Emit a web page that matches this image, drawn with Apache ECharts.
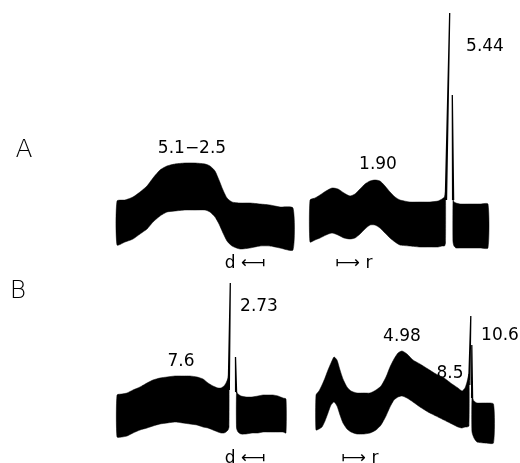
<!DOCTYPE html>
<html>
<head>
<meta charset="utf-8">
<script src="https://cdn.jsdelivr.net/npm/echarts@6/dist/echarts.min.js"></script>
<style>
  html, body { margin: 0; padding: 0; background: #fff; }
  #chart { width: 520px; height: 463px; }
</style>
</head>
<body>
<div id="chart"></div>
<script>
// ---- Trace A, "d" sweep: sweep position, upper and lower envelope of the recorded band
const aDX      = [0, 8, 16, 23, 30, 36, 43, 50, 58, 68, 78, 88, 93, 98, 102, 106, 110, 115, 123, 133, 143, 153, 163, 176];
const aDTop    = [51, 52, 55, 60, 66, 74, 82, 86, 88, 89, 89, 88, 86, 81, 72, 62, 54, 50, 49, 49, 48, 47, 45, 44];
const aDBottom = [7, 10, 13, 18, 23, 30, 36, 40, 41, 42, 42, 42, 40, 35, 28, 19, 11, 6, 3, 4, 6, 6, 4, 2];

// ---- Trace A, "r" sweep (band before the sharp line, band after it)
const aRX1      = [0, 5, 10, 16, 22, 28, 34, 40, 45, 50, 55, 60, 65, 70, 75, 80, 85, 90, 100, 110, 120, 128, 132, 134.5, 135.5];
const aRTop1    = [52, 54, 57, 61, 64, 63, 59, 56, 58, 63, 68, 71, 72, 71, 66, 60, 55, 52, 50, 50, 50, 51, 53, 55, 60];
const aRBottom1 = [10, 12, 14, 17, 19, 17, 14, 13, 14, 18, 23, 27, 27, 24, 19, 14, 10, 7, 6, 5, 5, 5, 6, 6, 9];
const aRX2      = [143, 144, 146, 150, 160, 170, 178];
const aRTop2    = [52, 50, 49, 48, 48, 48, 48];
const aRBottom2 = [10, 6, 4, 4, 4, 4, 4];
// sharp lines: [x, y] traces
const aRLineTall  = [[135.3, 52], [139.7, 239], [136.5, 52]];
const aRLineShort = [[142.6, 52], [142.3, 157], [143.6, 52]];

// ---- Trace B, "d" sweep
const bDX1      = [0, 5, 10, 16, 23, 30, 36, 43, 50, 58, 66, 73, 80, 86, 91, 96, 101, 104, 107, 109, 111, 112];
const bDTop1    = [45, 46, 47, 50, 53, 57, 60, 62, 63, 64, 64, 64, 63, 61, 57, 54, 52, 52, 54, 57, 62, 68];
const bDBottom1 = [3, 3, 4, 7, 10, 12, 14, 16, 17, 18, 17, 16, 15, 13, 12, 10, 8, 7, 7, 8, 10, 13];
const bDX2      = [119.5, 121, 124, 129, 135, 141, 146, 151, 156, 161, 166, 169];
const bDTop2    = [48, 46, 44, 43, 43, 44, 45, 45, 45, 44, 42, 41];
const bDBottom2 = [12, 8, 6, 6, 7, 7, 8, 8, 8, 8, 8, 7];
const bDLineTall  = [[111.3, 55], [113.3, 157], [112.3, 50]];
const bDLineShort = [[118.6, 48], [118.5, 83], [119.6, 47]];

// ---- Trace B, "r" sweep
const bRX1      = [0, 3, 6, 9, 12, 15, 18, 21, 24, 27, 31, 35, 41, 48, 54, 60, 65, 70, 74, 78, 82, 86, 91, 97, 104, 112, 120, 128, 136, 142, 146, 149, 151, 153];
const bRTop1    = [51, 55, 61, 68, 76, 83, 89, 86, 76, 67, 59, 55, 53, 53, 53, 56, 60, 69, 79, 87, 93, 95, 92, 86, 82, 77, 72, 68, 62, 58, 55, 58, 64, 72];
const bRBottom1 = [16, 17, 19, 25, 33, 41, 44, 40, 31, 23, 17, 14, 12, 12, 13, 16, 21, 30, 39, 46, 49, 50, 48, 44, 39, 34, 30, 26, 22, 19, 18, 19, 19, 20];
const bRX2      = [156, 158, 161, 169, 177.5];
const bRTop2    = [48, 45, 43, 43, 42];
const bRBottom2 = [14, 8, 4, 3, 3];
const bRLineTall  = [[152.8, 66], [154.8, 130], [153.8, 61]];
const bRLineShort = [[155.6, 48], [155.8, 101], [156.6, 46]];

// ---- Text
const traceNames = ['A', 'B'];
const peakLabels = ['5.1−2.5', '1.90', '5.44', '7.6', '2.73', '4.98', '8.5', '10.6'];
const sweepLabels = ['d ⟻', '⟼ r'];

const panels = [
  { grid: { left: 117, top: 152, width: 176, height: 100 }, xMax: 176, yMax: 100,
    blocks: [{ x: aDX, top: aDTop, bottom: aDBottom }], lines: [] },
  { grid: { left: 310, top: 10, width: 178, height: 242 }, xMax: 178, yMax: 242,
    blocks: [{ x: aRX1, top: aRTop1, bottom: aRBottom1 }, { x: aRX2, top: aRTop2, bottom: aRBottom2 }],
    lines: [aRLineTall, aRLineShort] },
  { grid: { left: 117, top: 280, width: 169, height: 160 }, xMax: 169, yMax: 160,
    blocks: [{ x: bDX1, top: bDTop1, bottom: bDBottom1 }, { x: bDX2, top: bDTop2, bottom: bDBottom2 }],
    lines: [bDLineTall, bDLineShort] },
  { grid: { left: 316, top: 310, width: 178, height: 136 }, xMax: 178, yMax: 136,
    blocks: [{ x: bRX1, top: bRTop1, bottom: bRBottom1 }, { x: bRX2, top: bRTop2, bottom: bRBottom2 }],
    lines: [bRLineTall, bRLineShort] }
];

const INK = '#000';
const grids = [], xAxes = [], yAxes = [], series = [];

panels.forEach((p, i) => {
  grids.push(Object.assign({ containLabel: false }, p.grid));
  xAxes.push({ type: 'value', gridIndex: i, min: 0, max: p.xMax, show: false });
  yAxes.push({ type: 'value', gridIndex: i, min: 0, max: p.yMax, show: false });

  // filled band between the upper and lower envelopes
  series.push({
    type: 'custom',
    xAxisIndex: i, yAxisIndex: i,
    silent: true,
    clip: false,
    data: p.blocks.map((b, k) => [b.x[0], b.bottom[0], k]),
    renderItem: function (params, api) {
      const b = p.blocks[api.value(2)];
      const pts = [];
      for (let j = 0; j < b.x.length; j++) pts.push(api.coord([b.x[j], b.top[j]]));
      for (let j = b.x.length - 1; j >= 0; j--) pts.push(api.coord([b.x[j], b.bottom[j]]));
      return {
        type: 'polygon',
        shape: { points: pts, smooth: 0.2 },
        style: { fill: INK, stroke: INK, lineWidth: 0.5 }
      };
    }
  });

  // sharp resonance lines
  p.lines.forEach(line => {
    series.push({
      type: 'line',
      xAxisIndex: i, yAxisIndex: i,
      data: line,
      symbol: 'none',
      silent: true,
      clip: false,
      lineStyle: { color: INK, width: 1.3 }
    });
  });
});

const numFont = { fontFamily: 'DejaVu Sans', fontSize: 17, fill: INK };
function txt(text, x, y, extra) {
  return {
    type: 'text', x: x, y: y, silent: true,
    style: Object.assign({ text: text, textAlign: 'center', textVerticalAlign: 'middle' }, numFont, extra || {})
  };
}
const letterStyle = { fontFamily: 'DejaVu Sans', fontWeight: 200, fontSize: 25 };

const option = {
  animation: false,
  backgroundColor: '#fff',
  grid: grids,
  xAxis: xAxes,
  yAxis: yAxes,
  series: series,
  graphic: [
    txt(traceNames[0], 24, 150, letterStyle),
    txt(traceNames[1], 18, 291, letterStyle),
    txt(peakLabels[0], 192, 149),
    txt(peakLabels[1], 378, 165),
    txt(peakLabels[2], 485, 47),
    txt(peakLabels[3], 181, 362),
    txt(peakLabels[4], 259, 307),
    txt(peakLabels[5], 402, 337),
    txt(peakLabels[6], 450, 374),
    txt(peakLabels[7], 500, 336),
    txt(sweepLabels[0], 245, 264),
    txt(sweepLabels[1], 354, 264),
    txt(sweepLabels[0], 245, 459),
    txt(sweepLabels[1], 360, 459)
  ]
};

const chart = echarts.init(document.getElementById('chart'), null, { renderer: 'canvas' });
chart.setOption(option);
</script>
</body>
</html>
